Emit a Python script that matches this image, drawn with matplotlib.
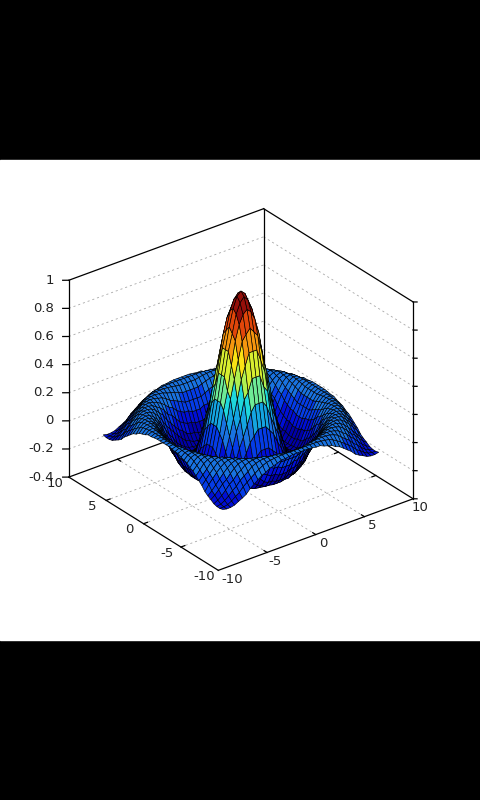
import numpy as np
import matplotlib
matplotlib.use("Agg")
import matplotlib.pyplot as plt
from matplotlib.colors import BoundaryNorm, ListedColormap
from matplotlib.patches import Rectangle
from mpl_toolkits.mplot3d import proj3d

# surface height read against distance from the centre, one entry every 0.1
profile_step = 0.1
profile = [1.0, .9983, .9933, .9851, .9735, .9589, .9411, .9203, .8967, .8704,
           .8415, .8102, .7767, .7412, .7039, .6650, .6247, .5833, .5410, .4981,
           .4546, .4111, .3675, .3242, .2814, .2394, .1983, .1583, .1196, .0825,
           .0470, .0134, -.0182, -.0478, -.0752, -.1002, -.1229, -.1432, -.1610, -.1764,
           -.1892, -.1996, -.2075, -.2131, -.2163, -.2172, -.2160, -.2127, -.2075, -.2005,
           -.1918, -.1815, -.1699, -.1570, -.1431, -.1283, -.1127, -.0966, -.0801, -.0634,
           -.0466, -.0299, -.0134, .0027, .0182, .0331, .0472, .0604, .0727, .0838,
           .0939, .1027, .1102, .1165, .1214, .1251, .1273, .1283, .1280, .1264,
           .1237, .1197, .1148, .1087, .1019, .0939, .0856, .0763, .0667, .0563,
           .0458, .0351, .0242, .0134, .0027, -.0079, -.0182, -.0280, -.0374, -.0462,
           -.0544, -.0619, -.0685, -.0751, -.0793, -.0838, -.0866, -.0896, -.0902, -.0915,
           -.0909, -.0897, -.0874, -.0843, -.0806]
grid_nodes = np.arange(-20, 21) * 0.4

xy_ticks = [-10, -5, 0, 5, 10]
z_ticks = [-0.4, -0.2, 0, 0.2, 0.4, 0.6, 0.8, 1]
z_labels = ["-0.4", "-0.2", "0", "0.2", "0.4", "0.6", "0.8", "1"]

# colour bands seen on the surface, low to high
band_edges = [-.23, -.12, -.03, .06, .15, .24, .33, .40, .47, .55, .62, .72, .83, 1.01]
band_colors = ["#0000aa", "#000fd7", "#053ce6", "#1973e1", "#14a5e1", "#1ed7dc",
               "#6eeb96", "#aff050", "#d8ee30", "#fae114", "#f5960f", "#e1460a", "#960f0a"]

fig = plt.figure(figsize=(4.8, 8), dpi=100, facecolor="black")
fig.add_artist(Rectangle((0, 0.2), 1, 0.6, transform=fig.transFigure, color="white", zorder=-5))

ax = fig.add_axes([-5.5 / 480, 0.2 + 4 / 800, 1, 0.6], projection="3d")
ax.computed_zorder = False
ax.patch.set_alpha(0)
ax.set_proj_type("ortho")
ax.view_init(elev=28.6, azim=-127.5)
ax.set_xlim(-10, 10, view_margin=0)
ax.set_ylim(-10, 10, view_margin=0)
ax.set_zlim(-0.4, 1, view_margin=0)
ax.set_box_aspect((1, 1, 0.913), zoom=0.836)
ax.set_axis_off()

X, Y = np.meshgrid(grid_nodes, grid_nodes)
R = np.sqrt(X**2 + Y**2)
Z = np.array(profile)[np.rint(R / profile_step).astype(int)]

box_kw = dict(color="black", lw=0.9, zorder=1)
grid_kw = dict(color="#a8a8a8", lw=0.6, dashes=(2.5, 3.5), zorder=0.5)

# box edges
ax.plot([-10, -10], [10, -10], [-0.4, -0.4], **box_kw)
ax.plot([-10, 10], [-10, -10], [-0.4, -0.4], **box_kw)
ax.plot([-10, 10], [10, 10], [-0.4, -0.4], **box_kw)
ax.plot([10, 10], [10, -10], [-0.4, -0.4], **box_kw)
ax.plot([-10, -10], [10, 10], [-0.4, 1], **box_kw)
ax.plot([10, 10], [10, 10], [-0.4, 1], **box_kw)
ax.plot([10, 10], [-10, -10], [-0.4, 1], **box_kw)
ax.plot([-10, 10], [10, 10], [1, 1], **box_kw)
ax.plot([10, 10], [10, -10], [1, 1], **box_kw)

# grid on the floor and the two back walls
for t in xy_ticks[1:-1]:
    ax.plot([t, t], [-10, 10], [-0.4, -0.4], **grid_kw)
    ax.plot([-10, 10], [t, t], [-0.4, -0.4], **grid_kw)
    ax.plot([t, t], [-10, -9.6], [-0.4, -0.4], **box_kw)
    ax.plot([t, t], [10, 9.6], [-0.4, -0.4], **box_kw)
    ax.plot([-10, -9.6], [t, t], [-0.4, -0.4], **box_kw)
    ax.plot([10, 9.6], [t, t], [-0.4, -0.4], **box_kw)
for z in z_ticks[1:-1]:
    ax.plot([-10, 10], [10, 10], [z, z], **grid_kw)
    ax.plot([10, 10], [10, -10], [z, z], **grid_kw)
for z in z_ticks:
    ax.plot([-10, -10.4], [10, 10.3], [z, z], **box_kw)
    ax.plot([10, 10.25], [-10, -10.2], [z, z], **box_kw)

ax.plot_surface(X, Y, Z, rstride=1, cstride=1, cmap=ListedColormap(band_colors),
                norm=BoundaryNorm(band_edges, len(band_colors)),
                edgecolor="black", linewidth=0.45, antialiased=True, shade=False, zorder=2)


def label(x, y, z, text, dx, dy, ha="center"):
    px, py, _ = proj3d.proj_transform(x, y, z, ax.get_proj())
    ax.annotate(text, (px, py), xytext=(dx, dy), textcoords="offset pixels",
                ha=ha, va="center", fontsize=9.5, color="#222222",
                fontfamily="DejaVu Sans", annotation_clip=False)


for z, s in zip(z_ticks, z_labels):
    label(-10, 10, z, s, -15, 0, ha="right")
for t in xy_ticks:
    label(-10, t, -0.4, str(t), -14, -6)
for t, dx in zip(xy_ticks, [14, 8, 8, 8, 7]):
    label(t, -10, -0.4, str(t), dx, -9)

fig.savefig("out.png", dpi=100, facecolor="black")
